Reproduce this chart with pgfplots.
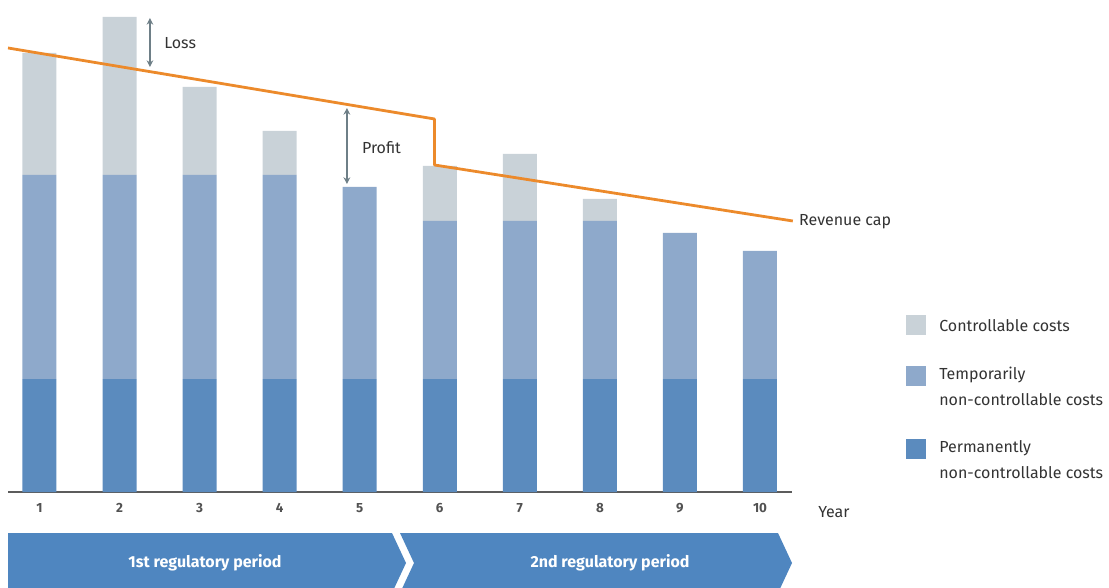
\documentclass[border=0pt]{standalone}
\usepackage{pgfplots}
\pgfplotsset{compat=1.18}
\usepackage{fontspec}
\setmainfont{Fira Sans}
\usetikzlibrary{arrows.meta}

\definecolor{ctrl}{HTML}{C9D2D8}
\definecolor{temp}{HTML}{8EA9CB}
\definecolor{perm}{HTML}{5B8BBE}
\definecolor{cap}{HTML}{EC8A2B}
\definecolor{arr}{HTML}{6E7F87}
\definecolor{band}{HTML}{4F86C0}
\definecolor{txt}{HTML}{333333}

\pgfplotsset{frame/.style={
    at={(6pt,71.25pt)}, anchor=south west,
    scale only axis, width=588pt, height=369pt,
    xmin=0.607, xmax=10.4, ymin=0, ymax=492,
    clip=false}}

\begin{document}
\begin{tikzpicture}
\useasboundingbox (0,0) rectangle (831.75pt,440.25pt);
\begin{axis}[
    frame,
    ybar stacked, bar width=25.5pt,
    axis x line*=bottom, hide y axis,
    axis line style={draw=txt!80, line width=1.1pt, -},
    xtick={1,...,10}, major tick length=0pt,
    xticklabel style={font=\fontsize{10}{12}\selectfont\bfseries, text=txt!85, yshift=-5pt},
    /pgf/number format/assume math mode=true,
]
% permanently non-controllable
\addplot[fill=perm, draw=none] coordinates {
    (1,113) (2,113) (3,113) (4,113) (5,113)
    (6,113) (7,113) (8,113) (9,113) (10,113)};
% temporarily non-controllable
\addplot[fill=temp, draw=none] coordinates {
    (1,204) (2,204) (3,204) (4,204) (5,192)
    (6,158) (7,158) (8,158) (9,146) (10,128)};
% controllable
\addplot[fill=ctrl, draw=none] coordinates {
    (1,122) (2,158) (3,88) (4,44) (5,0)
    (6,55) (7,67) (8,22) (9,0) (10,0)};
\end{axis}

\begin{axis}[frame, hide axis]
% revenue cap
\addplot[sharp plot, no markers, draw=cap, line width=2.1pt, line join=round] coordinates {
    (0.607,444) (5.934,373) (5.934,327) (10.41,271)};

\draw[arr, line width=1pt, {Stealth[length=5pt,width=5pt]}-{Stealth[length=5pt,width=5pt]}]
    (axis cs:2.38,474) -- (axis cs:2.38,425);
\node[anchor=west, text=txt, font=\fontsize{12}{14}\selectfont] at (axis cs:2.5,449) {Loss};
\draw[arr, line width=1pt, {Stealth[length=5pt,width=5pt]}-{Stealth[length=5pt,width=5pt]}]
    (axis cs:4.84,384) -- (axis cs:4.84,308);
\node[anchor=west, text=txt, font=\fontsize{12}{14}\selectfont] at (axis cs:4.97,344) {Profit};
\node[anchor=west, text=txt, font=\fontsize{12}{14}\selectfont, inner sep=1pt] at (axis cs:10.47,270) {Revenue cap};
\end{axis}

\begin{scope}[x=0.75pt, y=0.75pt]
% Year label
\node[anchor=west, text=txt, font=\fontsize{12}{14}\selectfont, inner sep=0pt] at (818,75) {Year};
% legend
\fill[ctrl] (906,252) rectangle (926,272);
\node[anchor=west, text=txt, font=\fontsize{12}{14}\selectfont, inner sep=0pt] at (939,261) {Controllable costs};
\fill[temp] (906,201) rectangle (926,221);
\node[anchor=west, text=txt, font=\fontsize{12}{14}\selectfont, inner sep=0pt] at (939,212) {Temporarily};
\node[anchor=west, text=txt, font=\fontsize{12}{14}\selectfont, inner sep=0pt] at (939,187) {non-controllable costs};
\fill[perm] (906,128) rectangle (926,148);
\node[anchor=west, text=txt, font=\fontsize{12}{14}\selectfont, inner sep=0pt] at (939,139) {Permanently};
\node[anchor=west, text=txt, font=\fontsize{12}{14}\selectfont, inner sep=0pt] at (939,114) {non-controllable costs};
% regulatory periods
\fill[band] (8,54) -- (392,54) -- (406,24) -- (392,-6) -- (8,-6) -- cycle;
\fill[band] (400,54) -- (778,54) -- (792,24) -- (778,-6) -- (400,-6) -- (414,24) -- cycle;
\node[text=white, font=\fontsize{12}{14}\selectfont\bfseries] at (205,24) {1st regulatory period};
\node[text=white, font=\fontsize{12}{14}\selectfont\bfseries] at (610,24) {2nd regulatory period};
\end{scope}
\end{tikzpicture}
\end{document}
